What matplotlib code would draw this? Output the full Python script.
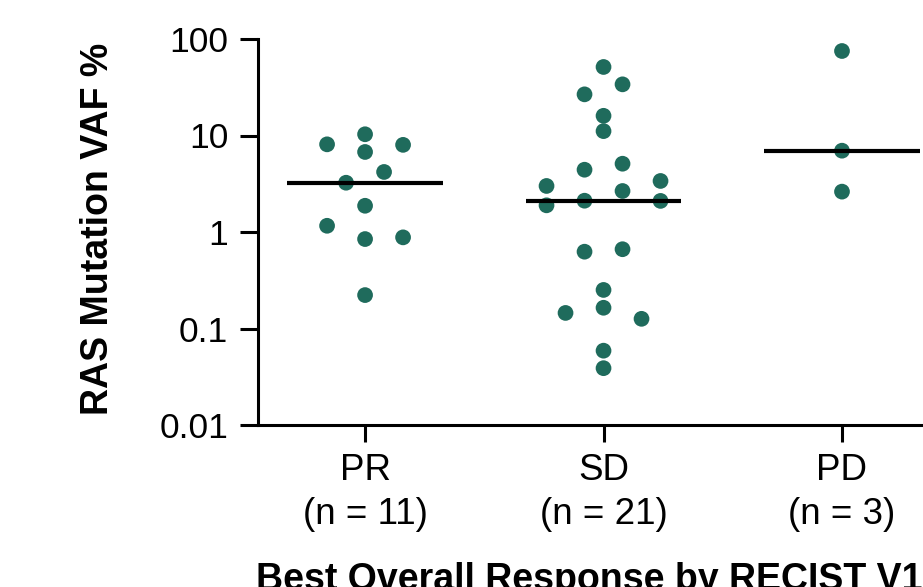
import numpy as np
import matplotlib
matplotlib.use("Agg")
import matplotlib.pyplot as plt
from matplotlib.ticker import FixedLocator, FixedFormatter, NullLocator

plt.rcParams['font.family'] = ['Liberation Sans', 'DejaVu Sans']

# ---------------- data ----------------
categories = ['PR', 'SD', 'PD']
pr_vaf = [10.3, 8.1, 8.0, 6.75, 3.24, 4.19, 1.87, 1.16, 0.88, 0.845, 0.222]
sd_vaf = [51.3, 26.7, 33.9, 16.0, 11.1, 4.42, 5.1, 3.0, 3.38, 1.89, 2.10,
          2.11, 2.66, 0.625, 0.663, 0.251, 0.145, 0.126, 0.164, 0.0589, 0.0388]
pd_vaf = [75.1, 6.96, 2.62]
groups = [pr_vaf, sd_vaf, pd_vaf]
y_ticks = [0.01, 0.1, 1, 10, 100]
y_tick_labels = ['0.01', '0.1', '1', '10', '100']
x_title = 'Best Overall Response by RECIST V1.1'
y_title = 'RAS Mutation VAF %'

# ---------------- style ----------------
DOT = '#1f6b5c'
W, H = 923, 587
fig = plt.figure(figsize=(W / 100, H / 100), dpi=100)
ax = fig.add_axes([258 / W, 162 / H, 691.3 / W, 386 / H])
ax.set_yscale('log')
ax.set_ylim(0.01, 100)
ax.set_xlim(-0.449, 2.45)

# ------------- Prism-like row scatter layout -------------
fig.canvas.draw()
tr = ax.transData
px_per_x = tr.transform((1, 1))[0] - tr.transform((0, 1))[0]
STEP = 19.0 / px_per_x        # half-slot spacing in data units
ROW_H = 14.8                  # px: points within this of row anchor share a row
COLL = 13.0                   # px: collision distance


def ypx(v):
    return tr.transform((0, v))[1]


def layout(vals, center):
    vals = list(vals)
    order = sorted(range(len(vals)), key=lambda i: vals[i])
    rows, cur, anchor = [], [], None
    for i in order:
        y = ypx(vals[i])
        if anchor is None or y - anchor < ROW_H:
            if anchor is None:
                anchor = y
            cur.append(i)
        else:
            rows.append(cur)
            cur, anchor = [i], y
    if cur:
        rows.append(cur)
    xs = [None] * len(vals)
    placed = []
    for row in rows:
        row = sorted(row)  # list order decides slot
        n = len(row)
        offs = [2 * k - (n - 1) for k in range(n)]
        offs = sorted(offs, key=lambda o: (-abs(o), o))
        for _ in range(6):
            ok = True
            for i, o in zip(row, offs):
                px = o * 19.0
                py = ypx(vals[i])
                for (qx, qy) in placed:
                    if np.hypot(px - qx, py - qy) < COLL:
                        ok = False
            if ok:
                break
            offs = [o + 2 * np.sign(o) for o in offs]
        for i, o in zip(row, offs):
            xs[i] = center + o * STEP
            placed.append((o * 19.0, ypx(vals[i])))
    return xs


for gi, vals in enumerate(groups):
    xs = layout(vals, gi)
    ax.scatter(xs, vals, s=128, color=DOT, edgecolors='none', zorder=3,
               clip_on=False)
    med = float(np.median(vals))
    ax.hlines(med, gi - 0.326, gi + 0.326, color='black', linewidth=3.0,
              zorder=4)

# ---------------- axes ----------------
for s in ['top', 'right']:
    ax.spines[s].set_visible(False)
for s in ['left', 'bottom']:
    ax.spines[s].set_linewidth(2.2)

ax.yaxis.set_major_locator(FixedLocator(y_ticks))
ax.yaxis.set_major_formatter(FixedFormatter(y_tick_labels))
ax.yaxis.set_minor_locator(NullLocator())
ax.set_xticks(range(len(categories)))
ax.set_xticklabels([f'{c}\n(n = {len(g)})' for c, g in zip(categories, groups)],
                   linespacing=1.35)
ax.tick_params(axis='y', length=13, width=2.2, labelsize=25.5, pad=8.5)
ax.tick_params(axis='x', length=12, width=2.2, labelsize=26.5, pad=8)

ax.set_ylabel(y_title, fontsize=27, fontweight='bold')
ax.yaxis.set_label_coords((116 - 258) / 691.3, (425 - 228.5) / 386)
ax.set_xlabel(x_title, fontsize=27, fontweight='bold')
ax.xaxis.set_label_coords((605 - 258) / 691.3, (587 - 562 - 162) / 386)

fig.savefig('out.png', dpi=100)
